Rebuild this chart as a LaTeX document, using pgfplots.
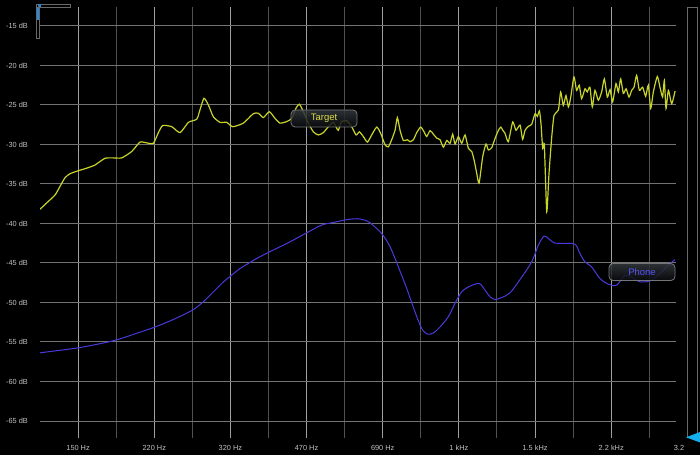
\documentclass[border=0pt]{standalone}
\usepackage{pgfplots}
\pgfplotsset{compat=1.18}
\usepackage{pgfplotstable}
\usepackage{fontspec}
\setmainfont{Liberation Sans}

\definecolor{tgt}{RGB}{200,212,40}
\definecolor{tgttxt}{RGB}{222,222,70}
\definecolor{phn}{RGB}{72,58,220}
\definecolor{phntxt}{RGB}{85,85,250}
\definecolor{gridhi}{RGB}{160,160,160}
\definecolor{gridlo}{RGB}{80,80,80}
\definecolor{gridy}{RGB}{115,115,115}
\definecolor{lbl}{RGB}{195,195,195}
\definecolor{widget}{RGB}{30,140,230}
\definecolor{frame}{RGB}{105,105,105}
\definecolor{tagline}{RGB}{115,118,120}
\definecolor{tagtop}{RGB}{52,57,62}
\definecolor{tagbot}{RGB}{10,12,14}

% Hz  dB
\pgfplotstableread{
f      db
123.9  -38.2
128.1  -37.4
133.6  -36.4
137.0  -35.3
140.5  -34.2
144.1  -33.7
149.7  -33.35
156.6  -33.0
163.3  -32.6
171.7  -31.75
179.1  -31.7
186.7  -31.7
196.3  -30.9
204.7  -29.7
211.7  -29.8
218.9  -29.85
224.5  -28.5
229.4  -27.6
240.0  -27.75
250.3  -28.5
261.0  -27.2
272.2  -26.8
276.7  -25.6
282.3  -24.15
288.5  -25.0
295.9  -26.5
305.9  -27.2
316.4  -27.2
326.1  -27.75
344.0  -27.3
361.7  -26.1
370.9  -26.05
380.3  -26.6
391.9  -25.85
403.3  -26.7
413.5  -27.3
427.6  -27.1
438.5  -26.7
448.1  -25.4
455.7  -24.9
464.9  -25.85
476.7  -27.3
488.8  -28.4
501.2  -28.8
514.0  -28.5
527.1  -27.75
540.5  -27.2
549.6  -27.95
554.2  -28.2
563.6  -27.1
577.9  -27.0
592.6  -27.75
605.7  -28.8
615.8  -28.4
628.3  -29.0
641.2  -29.7
655.2  -28.8
672.0  -27.8
685.5  -28.6
700.7  -30.05
712.5  -30.3
724.4  -29.4
736.7  -28.2
745.4  -26.6
755.4  -28.2
768.2  -29.5
783.8  -29.4
794.3  -29.65
807.8  -29.4
821.4  -28.5
838.1  -27.8
852.2  -28.4
863.6  -29.0
878.3  -28.25
893.1  -28.7
908.2  -29.2
923.4  -29.4
939.0  -30.35
955.0  -29.5
970.9  -29.85
983.9  -28.7
995.6  -29.95
1012.5 -29.0
1029.7 -29.85
1046.9 -28.8
1064.7 -30.5
1082.7 -30.9
1095.5 -31.95
1110.2 -33.65
1123.4 -34.9
1144   -31.55
1163   -29.95
1177   -30.7
1197   -30.4
1217   -29.25
1238   -28.2
1253   -27.8
1265   -28.2
1280   -28.6
1301   -29.65
1330   -27.15
1352   -28.2
1380   -27.55
1398   -29.35
1415   -28.2
1439   -27.7
1463   -27.45
1488   -26.1
1505   -26.45
1521   -25.75
1533   -27.35
1546   -30.5
1559   -30.1
1578   -38.5
1596   -33.65
1618   -29.05
1637   -26.3
1673   -25.65
1692   -23.35
1715   -25.05
1738   -23.8
1759   -25.25
1779   -24.1
1809   -21.45
1833   -23.15
1858   -22.5
1880   -24.2
1912   -22.95
1934   -23.35
1960   -22.75
1984   -25.25
2010   -23.15
2044   -24.4
2079   -23.35
2107   -21.7
2139   -24.0
2168   -23.05
2197   -24.6
2234   -22.3
2261   -23.35
2287   -21.7
2318   -23.55
2350   -22.95
2385   -24.0
2417   -23.15
2446   -22.75
2478   -21.25
2512   -23.15
2554   -22.75
2593   -23.9
2628   -22.5
2659   -25.45
2695   -23.35
2749   -21.4
2786   -22.75
2823   -24.0
2848   -21.9
2872   -25.45
2906   -23.15
2955   -24.85
3005   -23.25
}\target

\pgfplotstableread{
f      db
123.9  -56.37
134.7  -56.1
149.7  -55.75
164.7  -55.3
181.5  -54.75
201.3  -53.9
219.6  -53.15
242.0  -52.15
266.3  -50.97
281.4  -49.9
295.9  -48.65
311.1  -47.4
322.3  -46.67
338.2  -45.7
352.7  -45.06
367.8  -44.43
389.9  -43.67
413.5  -42.95
434.8  -42.32
472.8  -41.18
509.8  -40.2
540.5  -39.87
570.2  -39.58
590    -39.45
610    -39.4
630    -39.55
649.5  -39.9
688.8  -41.27
718.6  -42.95
749.1  -45.5
780.9  -48.2
814.4  -51.2
842.3  -53.3
866.5  -54.0
893.0  -53.85
923.4  -53.1
962.7  -51.8
995.6  -50.1
1029.4 -48.65
1073.6 -47.93
1124.9 -47.6
1157.4 -48.44
1186.8 -49.28
1217.0 -49.62
1258.3 -49.37
1312.2 -48.78
1379.9 -47.09
1463.1 -44.85
1512.8 -42.74
1556.6 -41.6
1590.7 -41.9
1636.8 -42.45
1715.3 -42.53
1818.1 -42.62
1864.4 -43.8
1911.8 -44.85
1977   -45.5
2061   -46.96
2150   -47.68
2242   -47.8
2338   -46.54
2417   -46.84
2520   -47.38
2650   -47.26
2786   -46.33
2906   -45.27
3005   -44.56
}\phone

\tikzset{tag/.style={draw=tagline, line width=0.8bp, rounded corners=4bp,
  top color=tagtop, bottom color=tagbot, fill opacity=0.85, text opacity=1,
  minimum width=66bp, minimum height=17bp, inner sep=0pt,
  font=\fontsize{9.5}{10}\selectfont}}

\begin{document}
\begin{tikzpicture}[x=1bp,y=1bp]
\fill[black] (0,0) rectangle (700,455);
\begin{axis}[
    at={(40bp,17bp)}, anchor=south west,
    scale only axis, width=636bp, height=431bp,
    xmode=log, xmin=123.9, xmax=3020,
    ymin=-67.15, ymax=-12.6,
    axis line style={draw=none},
    major tick length=0pt, minor tick length=0pt,
    xtick={150,219.9,322.3,472.4,692.5,1015,1488,2181},
    xticklabels={150 Hz,220 Hz,320 Hz,470 Hz,690 Hz,1 kHz,1.5 kHz,2.2 kHz},
    minor xtick={181.6,266.2,390.2,571.9,838.4,1229,1801,2640},
    ytick={-65,-60,-55,-50,-45,-40,-35,-30,-25,-20,-15},
    yticklabels={-65 dB,-60 dB,-55 dB,-50 dB,-45 dB,-40 dB,-35 dB,-30 dB,-25 dB,-20 dB,-15 dB},
    grid=both,
    major x grid style={gridhi, line width=1bp},
    minor x grid style={gridlo, line width=1bp},
    major y grid style={gridy, line width=1bp},
    ticklabel style={font=\fontsize{7.4}{8}\selectfont, text=lbl},
    xticklabel style={anchor=north, inner sep=0pt, yshift=-7bp},
    yticklabel style={anchor=east, inner sep=0pt, xshift=-12bp},
  ]
\addplot[tgt, line width=1.2bp, smooth, tension=0.35] table[x=f, y=db] {\target};
\addplot[phn, line width=1bp, smooth] table[x=f, y=db] {\phone};
\node[tag, text=tgttxt] at (axis cs:515.8,-26.71) {Target};
\node[tag, text=phntxt] at (axis cs:2546,-46.14) {Phone};
\end{axis}
% last tick label, cut at the panel edge
\node[anchor=north, inner sep=0pt, font=\fontsize{7.4}{8}\selectfont, text=lbl] at (679,10) {3.2};
% scroll widgets
\draw[frame, line width=0.8bp] (36,417) rectangle (39.5,451);
\fill[widget] (36.6,435) rectangle (38.9,448);
\draw[frame, line width=0.8bp] (38,447.7) rectangle (70.5,451);
\fill[widget] (38.5,448.2) rectangle (41,450.5);
\draw[frame, line width=0.8bp] (687,18) rectangle (697,448);
\fill[widget!70!cyan] (686,17.7) -- (700,23) -- (700,12.5) -- cycle;
\end{tikzpicture}
\end{document}
